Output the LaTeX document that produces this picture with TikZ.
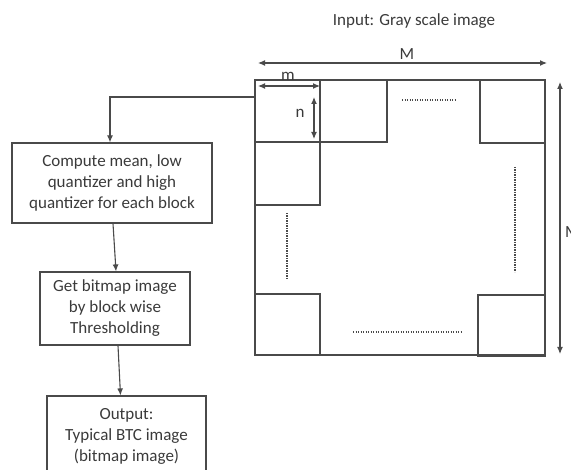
\documentclass[tikz,border=0pt]{standalone}
\usepackage{fontspec}
\setmainfont{Carlito}
\usetikzlibrary{arrows.meta}
\definecolor{ink}{HTML}{3A3A3A}
\definecolor{ln}{HTML}{4A4A4A}
\tikzset{
  flowbox/.style={draw=ln, line width=1.2pt, text=ink, align=center, inner sep=0pt,
    font=\fontsize{17}{21}\selectfont},
  arr/.style={draw=ln, line width=1.1pt, -{Latex[length=7pt,width=6pt]}},
  dim/.style={draw=ln, line width=1.1pt, {Latex[length=7pt,width=6pt]}-{Latex[length=7pt,width=6pt]}},
  blk/.style={draw=ln, line width=1.2pt},
  dots/.style={draw=ln, line width=1.6pt, dash pattern=on 1.2pt off 1.3pt},
  lbl/.style={text=ink, inner sep=0pt, font=\fontsize{17}{21}\selectfont}
}
\begin{document}
\begin{tikzpicture}[x=1pt,y=-1pt]
\useasboundingbox (0,0) rectangle (571,470);
\clip (0,0) rectangle (571,470);

% title
\node[lbl] (title) at (414,21) {Input: Gray scale image};

% big square and blocks
\draw[blk] (255,80) rectangle (545,355);
\draw[blk] (255,80) rectangle (320,142);
\draw[blk] (320,80) rectangle (387,142);
\draw[blk] (480,80) rectangle (545,143);
\draw[blk] (255,142) rectangle (320,205);
\draw[blk] (255,294) rectangle (320,355);
\draw[blk] (478,295) rectangle (545,356);

% dotted continuation marks
\draw[dots] (402,100) -- (455,100);
\draw[dots] (287,213) -- (287,280);
\draw[dots] (515,167) -- (515,272);
\draw[dots] (353,332) -- (461,332);

% dimension arrows
\coordinate (Ma) at (258,63);
\coordinate (Mb) at (547,63);
\draw[dim] (Ma) -- (Mb);
\node[lbl] (Mlab) at (407,54) {M};
\coordinate (ma) at (258,86);
\coordinate (mb) at (320,86);
\draw[dim] (ma) -- (mb);
\node[lbl] (mlab) at (288,76) {m};
\coordinate (na) at (314,97);
\coordinate (nb) at (314,139);
\draw[dim] (na) -- (nb);
\node[lbl] (nlab) at (300,113) {n};
\coordinate (Ra) at (560,82);
\coordinate (Rb) at (560,354);
\draw[dim] (Ra) -- (Rb);
\node[lbl, anchor=west] (Rlab) at (565,232) {M};

% flow boxes
\node[flowbox, minimum width=200pt, minimum height=80pt] (box1) at (112,183)
  {Compute mean, low\\quantizer and high\\quantizer for each block};
\node[flowbox, minimum width=150pt, minimum height=73pt] (box2) at (115,308.5)
  {Get bitmap image\\by block wise\\Thresholding};
\node[flowbox, minimum width=159pt, minimum height=81pt] (box3) at (126.5,436.5)
  {Output:\\Typical BTC image\\(bitmap image)};

% connectors
\coordinate (src) at (255,97);
\draw[arr] (src) -| ([xshift=-2pt]box1.north);
\draw[arr] ([xshift=1pt]box1.south) -- ([xshift=1pt]box2.north);
\draw[arr] ([xshift=3pt]box2.south) -- ([xshift=-6pt]box3.north);
\end{tikzpicture}
\end{document}
